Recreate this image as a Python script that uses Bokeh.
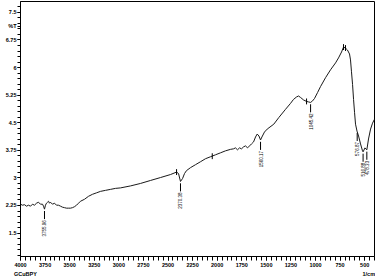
import math
from bokeh.plotting import figure
from bokeh.models import Range1d, FixedTicker, LinearAxis
from bokeh.embed import file_html
from bokeh.resources import INLINE
from bokeh.core.properties import value

# Spectrum (wavenumber 1/cm, %T)
wavenumber = [4000, 3980, 3959, 3939, 3919, 3898, 3878, 3858, 3837, 3817, 3797, 3776,
              3766, 3756, 3746, 3736, 3725, 3715, 3705, 3695, 3675, 3654, 3634, 3614,
              3593, 3573, 3553, 3532, 3512, 3492, 3471, 3451, 3430, 3410, 3390, 3349,
              3308, 3268, 3227, 3186, 3136, 3085, 3034, 2983, 2881, 2780, 2678, 2576,
              2475, 2413, 2393, 2373, 2352, 2332, 2312, 2271, 2220, 2169, 2119, 2068,
              2017, 1966, 1915, 1864, 1834, 1814, 1793, 1773, 1752, 1732, 1712, 1691,
              1671, 1651, 1630, 1610, 1593, 1575, 1559, 1545, 1519, 1491, 1424, 1373,
              1305, 1254, 1224, 1193, 1173, 1152, 1122, 1091, 1071, 1050, 1030, 1010,
              979, 949, 898, 847, 796, 766, 735, 715, 695, 675, 654, 644, 634, 623,
              613, 603, 593, 578, 562, 542, 522, 516, 497, 478, 461, 440, 420, 400]
transmittance = [2.285, 2.258, 2.271, 2.231, 2.258, 2.231, 2.285, 2.258, 2.312, 2.339, 2.285, 2.285,
                 2.231, 2.150, 2.258, 2.312, 2.339, 2.365, 2.312, 2.339, 2.285, 2.312, 2.258, 2.258,
                 2.231, 2.204, 2.191, 2.177, 2.177, 2.177, 2.191, 2.217, 2.258, 2.312, 2.365, 2.419,
                 2.500, 2.554, 2.594, 2.634, 2.661, 2.688, 2.715, 2.728, 2.782, 2.849, 2.930, 3.010,
                 3.091, 3.158, 3.118, 2.903, 2.983, 3.118, 3.198, 3.279, 3.360, 3.440, 3.521, 3.575,
                 3.628, 3.682, 3.736, 3.776, 3.790, 3.816, 3.763, 3.816, 3.790, 3.843, 3.870, 3.816,
                 3.870, 3.924, 3.978, 4.112, 4.192, 4.139, 4.031, 4.112, 4.246, 4.327, 4.461, 4.641,
                 4.864, 5.026, 5.133, 5.200, 5.227, 5.187, 5.120, 5.079, 5.066, 5.052, 5.093, 5.160,
                 5.321, 5.482, 5.724, 5.939, 6.127, 6.262, 6.423, 6.557, 6.530, 6.477, 6.369, 6.208,
                 5.885, 5.536, 5.133, 4.784, 4.461, 4.273, 4.139, 3.924, 3.736, 3.709, 3.816, 3.763,
                 4.058, 4.327, 4.488, 4.596]

# Labelled peaks
peak_wn = [3756, 2373, 1559, 1050, 576, 516, 478]
peak_t = [2.150, 2.903, 4.031, 5.052, 4.273, 3.709, 3.763]
peak_labels = ["3755.96", "2370.38", "1560.17", "1045.42", "576.87", "516.88", "478.33"]

# Small peak-pick marks
mark_wn = [2413, 2050, 1091, 715, 695]
mark_t = [3.158, 3.590, 5.079, 6.557, 6.530]

# Axis ticks
x_ticks = [4000, 3750, 3500, 3250, 3000, 2750, 2500, 2250, 2000, 1750, 1500, 1250, 1000, 750, 500]
x_tick_labels = ["4000", "3750", "3500", "3250", "3000", "2750", "2500", "2250", "2000",
                 "1750", "1500", "1250", "1000", "750", "500"]
y_ticks = [1.5, 2.25, 3.0, 3.75, 4.5, 5.25, 6.0, 6.75, 7.125, 7.5]
y_tick_labels = ["1.5", "2.25", "3", "3.75", "4.5", "5.25", "6", "6.75", "%T", "7.5"]

# Caption row under the x axis: sample name (left) and unit (right)
caption_pos = [3950, 458]
caption_text = ["GCuBPY", "1/cm"]

FONT = "Liberation Sans"

p = figure(width=375, height=279, x_range=Range1d(4000, 400), y_range=Range1d(0.863, 7.796),
           output_backend="svg", toolbar_location=None,
           min_border_left=20, min_border_right=1, min_border_top=1, min_border_bottom=20)
p.grid.visible = False
p.outline_line_color = "black"
p.outline_line_width = 1
p.background_fill_color = "white"
p.border_fill_color = "white"

x_minor = [4000 - 50 * k for k in range(73)]
y_minor = [round(0.9 + 0.15 * k, 2) for k in range(47)]
p.xaxis.ticker = FixedTicker(ticks=x_ticks, minor_ticks=x_minor)
p.yaxis.ticker = FixedTicker(ticks=y_ticks, minor_ticks=y_minor)
p.xaxis.major_label_overrides = dict(zip(x_ticks, x_tick_labels))
p.yaxis.major_label_overrides = dict(zip(y_ticks, y_tick_labels))

for ax in (p.xaxis[0], p.yaxis[0]):
    ax.major_label_text_font = FONT
    ax.major_label_text_font_style = "bold"
    ax.major_label_text_font_size = "5.5px"
    ax.major_label_text_color = "black"
    ax.axis_line_color = "black"
    ax.major_tick_line_color = "black"
    ax.minor_tick_line_color = "black"
    ax.major_tick_in = 0
    ax.minor_tick_in = 0
p.xaxis.major_tick_out = 4
p.xaxis.minor_tick_out = 4
p.xaxis.major_label_standoff = 2
p.yaxis.major_tick_out = 3
p.yaxis.minor_tick_out = 3
p.yaxis.major_label_standoff = 1

cap = LinearAxis(ticker=FixedTicker(ticks=caption_pos, minor_ticks=[]),
                 major_label_overrides=dict(zip(caption_pos, caption_text)),
                 axis_line_color=None, major_tick_line_color=None, minor_tick_line_color=None,
                 major_tick_out=0, major_tick_in=0, major_label_standoff=1,
                 major_label_text_font=FONT, major_label_text_font_style="bold",
                 major_label_text_font_size="5.5px", major_label_text_color="black")
p.add_layout(cap, "below")

p.line(wavenumber, transmittance, line_color="#1a1a1a", line_width=1)

# peak marks
mh = 0.08
p.segment(x0=mark_wn, y0=[t - mh for t in mark_t], x1=mark_wn, y1=[t + mh for t in mark_t],
          line_color="black", line_width=1)

# drop lines and labels
d1, d2 = 0.05, 0.27
p.segment(x0=peak_wn, y0=[t - d1 for t in peak_t], x1=peak_wn, y1=[t - d2 for t in peak_t],
          line_color="black", line_width=1)
p.text(x=peak_wn, y=[t - d2 - 0.03 for t in peak_t], text=peak_labels, angle=math.pi / 2,
       text_align="right", text_baseline="middle", text_font=value(FONT),
       text_font_size="4.5px", text_color="black")

open("out.html", "w").write(file_html(p, INLINE))
